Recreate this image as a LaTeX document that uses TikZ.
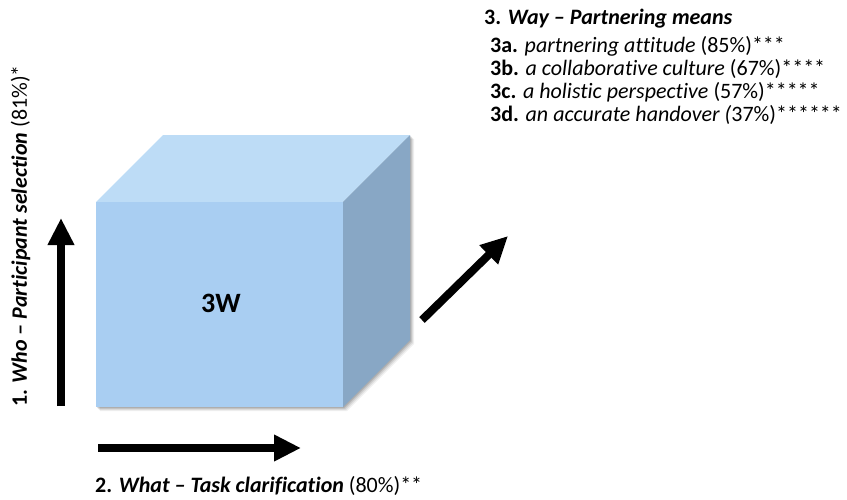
\documentclass[tikz,border=0pt]{standalone}
\usepackage{fontspec}
\setmainfont[Ligatures=NoCommon]{Carlito}
\usetikzlibrary{arrows.meta}
\definecolor{cubefront}{HTML}{A9CEF2}
\definecolor{cubetop}{HTML}{BDDCF6}
\definecolor{cubeside}{HTML}{88A7C5}
\begin{document}
\begin{tikzpicture}[x=1pt,y=-1pt,
  bigarrow/.style={line width=8pt,-{Triangle[length=27pt,width=25pt]}},
  lbl/.style={inner sep=0pt,anchor=base west,font=\fontsize{22}{26}\selectfont},
  cubetext/.style={font=\fontsize{28}{32}\selectfont\bfseries}]
\useasboundingbox (0,0) rectangle (847,499);
% soft drop shadow of the cube
\foreach \s/\o in {4/0.06,3/0.08,2/0.10,1/0.12}{
  \fill[black,opacity=\o] (96+\s,202+\s) -- (163+\s,135+\s) -- (410+\s,135+\s)
    -- (410+\s,340+\s) -- (343+\s,407+\s) -- (96+\s,407+\s) -- cycle;
}
% cube faces
\fill[cubetop] (96,202) -- (163,135) -- (410,135) -- (343,202) -- cycle;
\fill[cubeside] (343,202) -- (410,135) -- (410,340) -- (343,407) -- cycle;
\fill[cubefront] (96,202) rectangle (343,407);
\node[cubetext] (cube) at (221,303) {3W};
% arrow end points
\coordinate (whoA) at (61,406);
\coordinate (whoB) at (61,218);
\coordinate (whatA) at (98,448);
\coordinate (whatB) at (301,448);
\coordinate (wayA) at (422,320);
\coordinate (wayB) at (508,236);
\draw[bigarrow] (whoA) -- (whoB);
\draw[bigarrow] (whatA) -- (whatB);
\draw[bigarrow] (wayA) -- (wayB);
% labels
\node[lbl,rotate=90] (who) at (27,407)
  {\textbf{1.} \textbf{\textit{Who – Participant selection}} (81\%)*};
\node[lbl] (what) at (95,492)
  {\textbf{2.} \textbf{\textit{What – Task clarification}} (80\%)**};
\node[lbl] (way) at (484,24)
  {\textbf{3.} \textbf{\textit{Way – Partnering means}}};
\node[lbl] (way a) at (490,52)
  {\textbf{3a.} \textit{partnering attitude} (85\%)***};
\node[lbl] (way b) at (490,75)
  {\textbf{3b.} \textit{a collaborative culture} (67\%)****};
\node[lbl] (way c) at (490,98)
  {\textbf{3c.} \textit{a holistic perspective} (57\%)*****};
\node[lbl] (way d) at (490,121)
  {\textbf{3d.} \textit{an accurate handover (}37\%)******};
\end{tikzpicture}
\end{document}
